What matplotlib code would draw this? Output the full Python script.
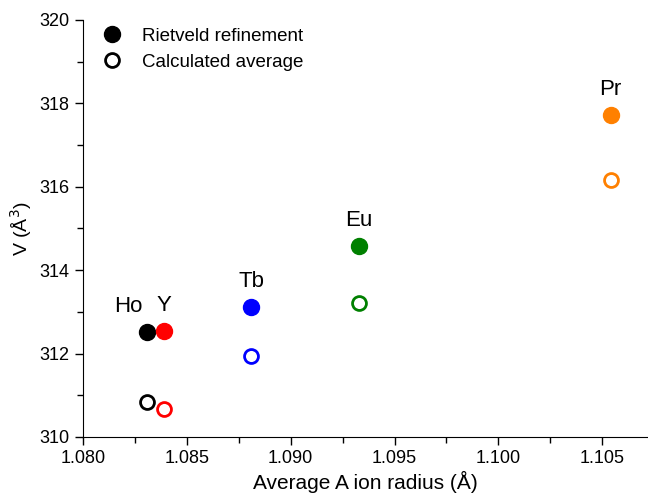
import matplotlib.pyplot as plt
from matplotlib.ticker import MultipleLocator
from matplotlib.lines import Line2D

plt.rcParams['font.family'] = ['Liberation Sans', 'DejaVu Sans']

elements = ['Ho', 'Y', 'Tb', 'Eu', 'Pr']
radius = [1.0831, 1.0839, 1.0881, 1.0933, 1.1054]
v_rietveld = [312.52, 312.53, 313.12, 314.59, 317.73]
v_calc = [310.83, 310.66, 311.95, 313.21, 316.17]
colors = ['black', '#ff0000', '#0000ff', '#008000', '#ff8000']

fig = plt.figure(figsize=(6.48, 4.98), dpi=100)
ax = fig.add_axes([0.128, 0.1225, 0.872, 0.8375])

for i in range(len(elements)):
    ax.plot(radius[i], v_rietveld[i], 'o', color=colors[i], markersize=11.5)
    ax.plot(radius[i], v_calc[i], 'o', markerfacecolor='none', markeredgecolor=colors[i],
            markersize=10, markeredgewidth=2)
    dx = -0.0009 if elements[i] == 'Ho' else 0
    ax.text(radius[i] + dx, v_rietveld[i] + 0.36, elements[i], ha='center', va='bottom', fontsize=16)

ax.set_xlim(1.080, 1.1072)
ax.set_ylim(310, 320)
ax.xaxis.set_major_locator(MultipleLocator(0.005))
ax.xaxis.set_minor_locator(MultipleLocator(0.0025))
ax.yaxis.set_major_locator(MultipleLocator(2))
ax.yaxis.set_minor_locator(MultipleLocator(1))
ax.xaxis.set_major_formatter(plt.FormatStrFormatter('%.3f'))
ax.tick_params(which='major', direction='out', length=6, width=1, labelsize=13)
ax.tick_params(which='minor', direction='out', length=4, width=1)
ax.spines['top'].set_visible(False)
ax.spines['right'].set_visible(False)
ax.set_xlabel('Average A ion radius (Å)', fontsize=15, labelpad=3)
ax.set_ylabel('V (Å$^3$)', fontsize=14)

handles = [Line2D([], [], marker='o', color='black', linestyle='none', markersize=11.5),
           Line2D([], [], marker='o', markerfacecolor='none', markeredgecolor='black',
                  linestyle='none', markersize=10, markeredgewidth=2)]
ax.legend(handles, ['Rietveld refinement', 'Calculated average'], loc='upper left',
          frameon=False, fontsize=13.5, borderaxespad=0.0, handletextpad=0.6, labelspacing=0.5,
          bbox_to_anchor=(0.005, 1.0))

fig.savefig('out.png', dpi=100)
